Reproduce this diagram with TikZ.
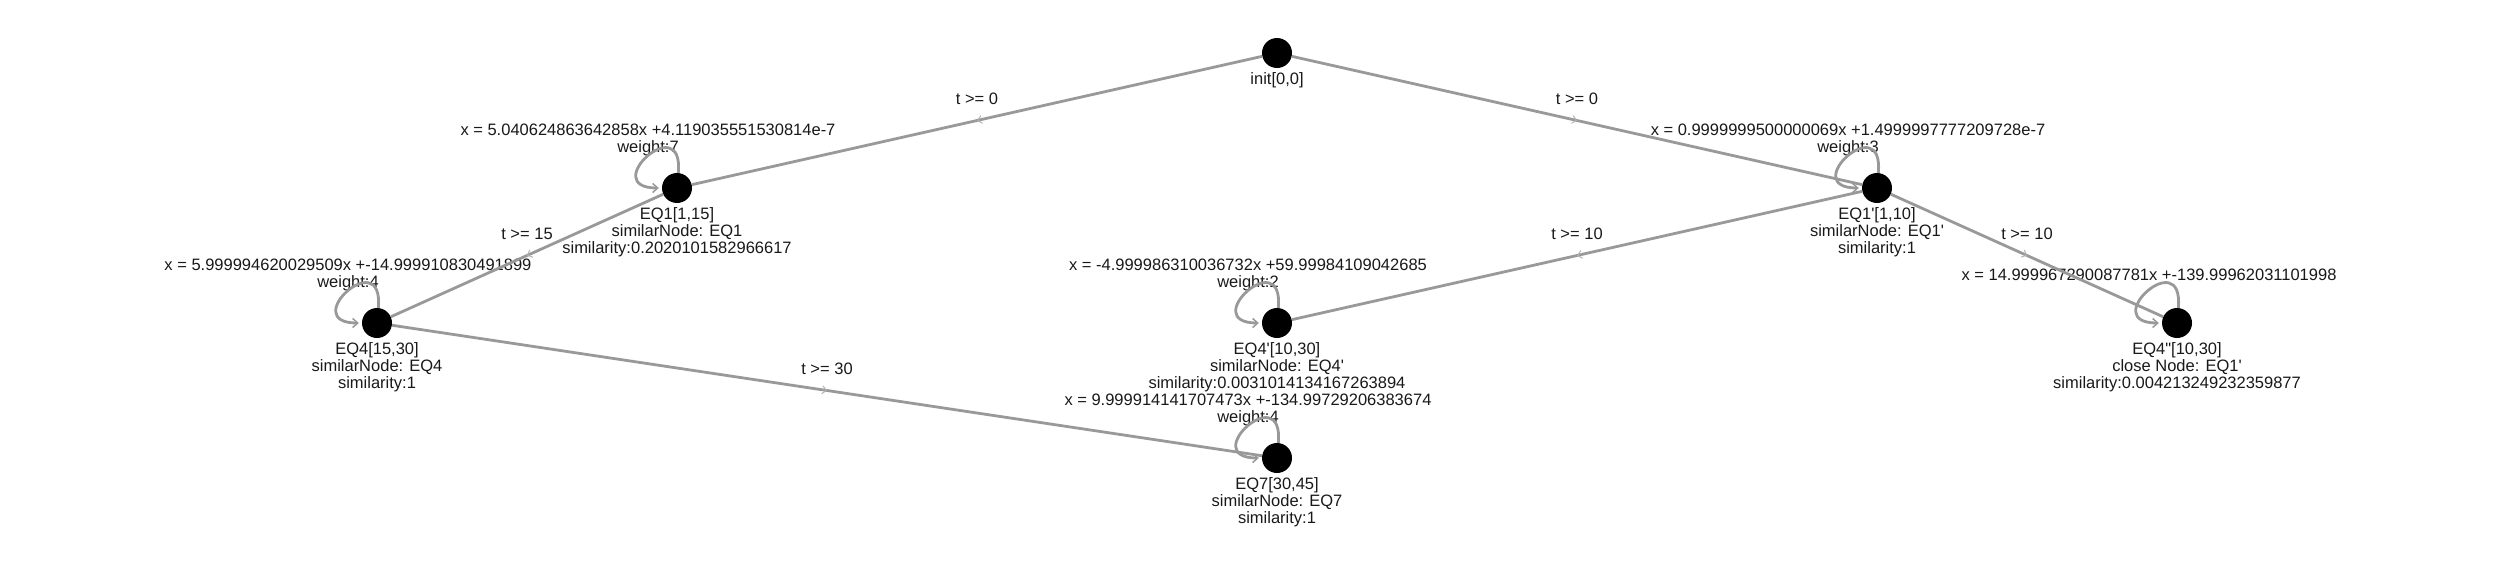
\documentclass[tikz,border=0pt]{standalone}
\usepackage{fontspec}
\setmainfont{Liberation Sans}
\usetikzlibrary{positioning,arrows.meta,decorations.markings}
\newcommand{\prm}{\textquotesingle}

\begin{document}
\begin{tikzpicture}[x=1pt, y=1pt, node distance=4pt,
  state/.style={circle, fill=black, inner sep=0pt, minimum size=30pt},
  info/.style={align=center, inner sep=0pt, font=\fontsize{16.5}{17}\selectfont, text=black!90},
  edgelabel/.style={inner sep=0pt, font=\fontsize{16.5}{17}\selectfont, text=black!90},
  link/.style={draw=black!40, line width=2.8pt, postaction={decorate},
    decoration={markings, mark=at position 0.5 with {\arrow[black!30, line width=1pt]{Straight Barb[length=4pt,width=8pt]}}}},
  selfloop/.style={draw=black!40, line width=2.8pt, -{Straight Barb[length=5pt,width=9pt,line width=1.5pt]},
    out=85, in=180, distance=65pt, shorten >=3pt}]

  \useasboundingbox (0,0) rectangle (2500,-562);

  \node[state] (init) at (1277,-53) {};
  \node[state] (EQ1) [on grid, below left=135pt and 600pt of init] {};
  \node[state] (EQ1p) [on grid, below right=135pt and 600pt of init] {};
  \node[state] (EQ4) [on grid, below left=135pt and 300pt of EQ1] {};
  \node[state] (EQ4p) [on grid, below left=135pt and 600pt of EQ1p] {};
  \node[state] (EQ4pp) [on grid, below right=135pt and 300pt of EQ1p] {};
  \node[state] (EQ7) [on grid, below=135pt of EQ4p] {};

  \node[info] (initinfo) [below=of init] {init[0,0]};
  \node[info] (EQ1info) [below=of EQ1] {EQ1[1,15]\\similarNode: EQ1\\similarity:0.2020101582966617};
  \node[info] (EQ1pinfo) [below=of EQ1p] {EQ1\prm[1,10]\\similarNode: EQ1\prm\\similarity:1};
  \node[info] (EQ4info) [below=of EQ4] {EQ4[15,30]\\similarNode: EQ4\\similarity:1};
  \node[info] (EQ4pinfo) [below=of EQ4p] {EQ4\prm[10,30]\\similarNode: EQ4\prm\\similarity:0.0031014134167263894};
  \node[info] (EQ4ppinfo) [below=of EQ4pp] {EQ4\textquotedbl[10,30]\\close Node: EQ1\prm\\similarity:0.004213249232359877};
  \node[info] (EQ7info) [below=of EQ7] {EQ7[30,45]\\similarNode: EQ7\\similarity:1};

  \node[info] (EQ1fit) [above=17pt of EQ1, xshift=-29pt] {x = 5.040624863642858x +4.119035551530814e-7\\weight:7};
  \node[info] (EQ1pfit) [above=17pt of EQ1p, xshift=-29pt] {x = 0.9999999500000069x +1.4999997777209728e-7\\weight:3};
  \node[info] (EQ4fit) [above=17pt of EQ4, xshift=-29pt] {x = 5.999994620029509x +-14.999910830491899\\weight:4};
  \node[info] (EQ4pfit) [above=17pt of EQ4p, xshift=-29pt] {x = -4.999986310036732x +59.99984109042685\\weight:2};
  \node[info] (EQ4ppfit) [above=27pt of EQ4pp, xshift=-28pt] {x = 14.999967290087781x +-139.99962031101998};
  \node[info] (EQ7fit) [above=17pt of EQ7, xshift=-29pt] {x = 9.999914141707473x +-134.99729206383674\\weight:4};

  \path (init) edge[link] node[midway, above=14pt, edgelabel] (t1) {t >= 0} (EQ1)
               edge[link] node[midway, above=14pt, edgelabel] (t2) {t >= 0} (EQ1p)
        (EQ1)  edge[link] node[midway, above=14pt, edgelabel] (t3) {t >= 15} (EQ4)
        (EQ1p) edge[link] node[midway, above=14pt, edgelabel] (t4) {t >= 10} (EQ4p)
               edge[link] node[midway, above=14pt, edgelabel] (t5) {t >= 10} (EQ4pp)
        (EQ4)  edge[link] node[midway, above=14pt, edgelabel] (t6) {t >= 30} (EQ7);

  \path (EQ1) edge[selfloop] (EQ1)
        (EQ1p) edge[selfloop] (EQ1p)
        (EQ4) edge[selfloop] (EQ4)
        (EQ4p) edge[selfloop] (EQ4p)
        (EQ4pp) edge[selfloop] (EQ4pp)
        (EQ7) edge[selfloop] (EQ7);

\end{tikzpicture}
\end{document}
